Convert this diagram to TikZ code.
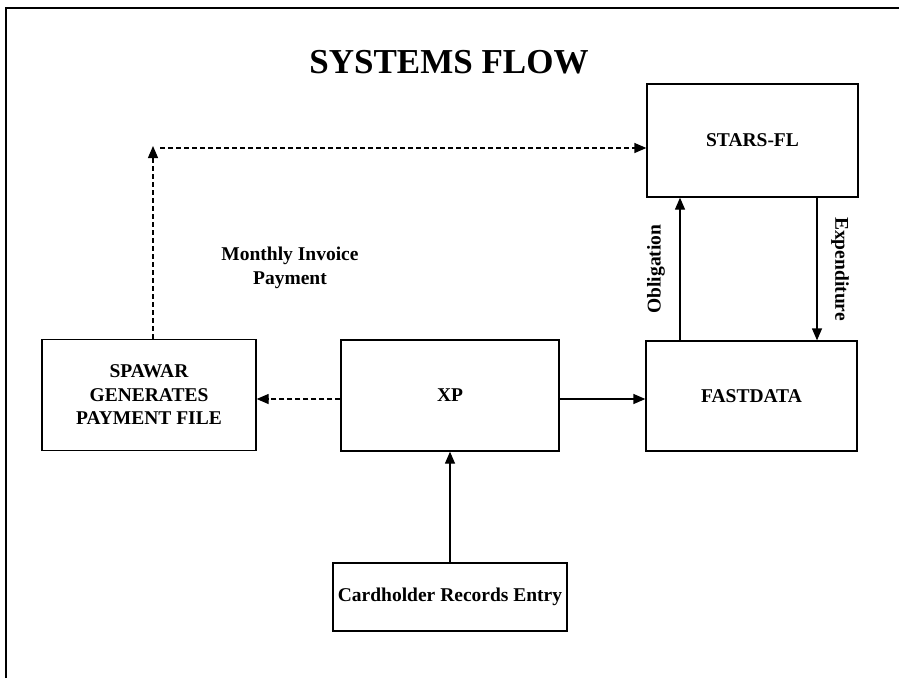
\documentclass[tikz,border=0pt]{standalone}
\usepackage{fontspec}
\setmainfont{Liberation Serif}
\usetikzlibrary{arrows.meta}
\begin{document}
\begin{tikzpicture}[x=1pt,y=-1pt,
  box/.style={draw, line width=1.3pt, inner sep=0pt, font=\fontsize{19.5}{23.5}\selectfont\bfseries, align=center},
  lbl/.style={font=\fontsize{19.5}{23.5}\selectfont\bfseries, align=center, inner sep=0pt},
  conn/.style={line width=1.3pt, -{Triangle[length=12pt,width=10pt]}},
  dconn/.style={conn, dash pattern=on 5pt off 3pt},
  frame/.style={line width=1.2pt}]
\useasboundingbox (0,0) rectangle (899,678);
\draw[frame] (6,678) -- (6,8) -- (899,8);
\node[font=\fontsize{35}{40}\selectfont\bfseries, inner sep=0pt] (title) at (449,62) {SYSTEMS FLOW};
\node[box, minimum width=211pt, minimum height=113pt] (stars) at (752.5,140.5) {STARS-FL};
\node[box, minimum width=214pt, minimum height=111pt] (spawar) at (149,395) {SPAWAR\\GENERATES\\PAYMENT FILE};
\node[box, minimum width=218pt, minimum height=111pt] (xp) at (450,395.5) {XP};
\node[box, minimum width=211pt, minimum height=110pt] (fast) at (751.5,396) {FASTDATA};
\node[box, minimum width=234pt, minimum height=68pt] (card) at (450,597) {Cardholder Records Entry};
\node[lbl] (mip) at (290,268) {Monthly Invoice\\Payment};
\node[lbl, rotate=90] (obl) at (656,269) {Obligation};
\node[lbl, rotate=-90] (exp) at (840,269) {Expenditure};
\coordinate (oblx) at (680,0);
\coordinate (expx) at (817,0);
\coordinate (midy) at (0,399);
\coordinate (corner) at (153,146);
\coordinate (hstart) at (160,148);
\draw[conn] (xp.east |- midy) -- (fast.west |- midy);
\draw[dconn] (xp.west |- midy) -- (spawar.east |- midy);
\draw[conn] (oblx |- fast.north) -- (oblx |- stars.south);
\draw[conn] (expx |- stars.south) -- (expx |- fast.north);
\draw[conn] (card.north) -- (card.north |- xp.south);
\draw[dconn] (corner |- spawar.north) -- (corner);
\draw[dconn] (hstart) -- (hstart -| stars.west);
\end{tikzpicture}
\end{document}
